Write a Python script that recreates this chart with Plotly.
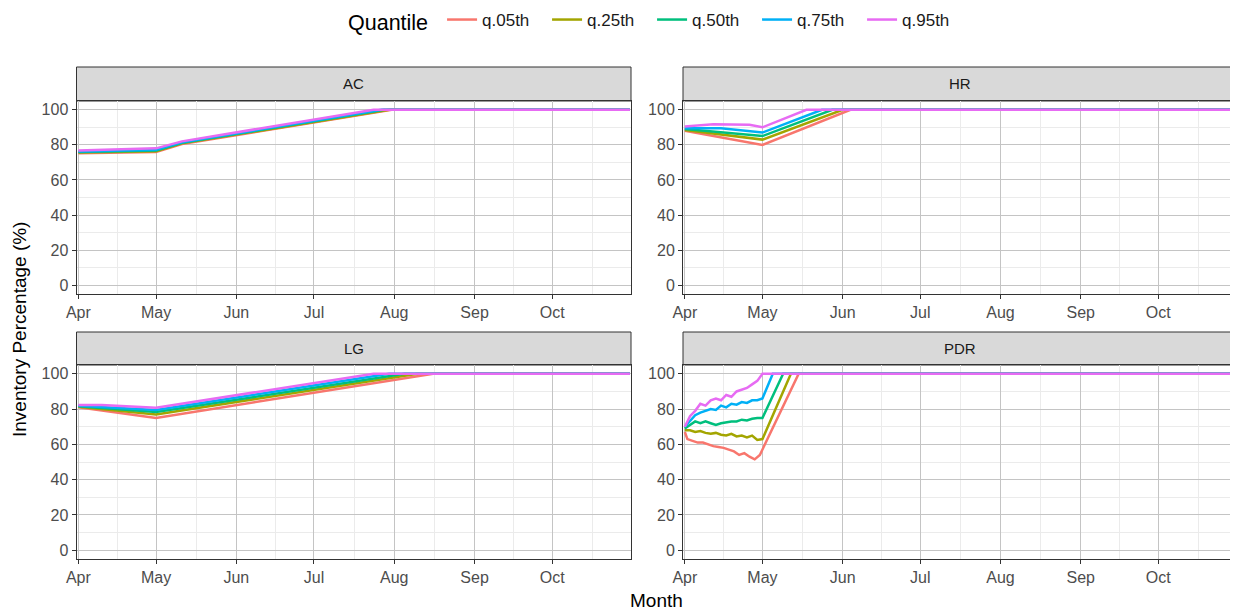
import plotly.graph_objects as go

# ---------------- data ----------------
QUANTILES = ["q.05th", "q.25th", "q.50th", "q.75th", "q.95th"]
COLORS = ["#F8766D", "#A3A500", "#00BF7D", "#00B0F6", "#E76BF3"]
PANELS = ["AC", "HR", "LG", "PDR"]
MONTH_TICKS = ["2021-04-01", "2021-05-01", "2021-06-01", "2021-07-01",
               "2021-08-01", "2021-09-01", "2021-10-01"]
MONTH_LABELS = ["Apr", "May", "Jun", "Jul", "Aug", "Sep", "Oct"]
MONTH_MINOR = ["2021-04-16", "2021-05-16 12:00", "2021-06-16", "2021-07-16 12:00",
               "2021-08-16 12:00", "2021-09-16", "2021-10-16 12:00"]
Y_TICKS = [0, 20, 40, 60, 80, 100]
Y_MINOR = [10, 30, 50, 70, 90]

# AC
AC_q05_x = ["2021-04-01", "2021-05-01", "2021-05-11", "2021-07-31", "2021-10-31"]
AC_q05_y = [75.2, 76.0, 80.5, 100, 100]
AC_q25_x = ["2021-04-01", "2021-05-01", "2021-05-11", "2021-07-30", "2021-10-31"]
AC_q25_y = [75.6, 76.4, 80.9, 100, 100]
AC_q50_x = ["2021-04-01", "2021-05-01", "2021-05-11", "2021-07-28", "2021-10-31"]
AC_q50_y = [75.9, 76.8, 81.2, 100, 100]
AC_q75_x = ["2021-04-01", "2021-05-01", "2021-05-11", "2021-07-27", "2021-10-31"]
AC_q75_y = [76.2, 77.2, 81.5, 100, 100]
AC_q95_x = ["2021-04-01", "2021-05-01", "2021-05-11", "2021-07-24", "2021-10-31"]
AC_q95_y = [76.8, 78.0, 82.0, 100, 100]

# HR
HR_q05_x = ["2021-04-01", "2021-05-01", "2021-06-04", "2021-10-31"]
HR_q05_y = [88.0, 80.0, 100, 100]
HR_q25_x = ["2021-04-01", "2021-05-01", "2021-06-01", "2021-10-31"]
HR_q25_y = [88.5, 83.0, 100, 100]
HR_q50_x = ["2021-04-01", "2021-05-01", "2021-05-28", "2021-10-31"]
HR_q50_y = [89.0, 85.0, 100, 100]
HR_q75_x = ["2021-04-01", "2021-04-15", "2021-05-01", "2021-05-24", "2021-10-31"]
HR_q75_y = [89.5, 89.5, 87.0, 100, 100]
HR_q95_x = ["2021-04-01", "2021-04-12", "2021-04-26", "2021-05-01", "2021-05-18", "2021-10-31"]
HR_q95_y = [90.5, 91.8, 91.4, 90.0, 100, 100]

# LG
LG_q05_x = ["2021-04-01", "2021-05-01", "2021-08-16", "2021-10-31"]
LG_q05_y = [81.0, 75.0, 100, 100]
LG_q25_x = ["2021-04-01", "2021-05-01", "2021-08-10", "2021-10-31"]
LG_q25_y = [81.3, 77.0, 100, 100]
LG_q50_x = ["2021-04-01", "2021-05-01", "2021-08-05", "2021-10-31"]
LG_q50_y = [81.6, 78.3, 100, 100]
LG_q75_x = ["2021-04-01", "2021-05-01", "2021-07-30", "2021-10-31"]
LG_q75_y = [81.9, 79.5, 100, 100]
LG_q95_x = ["2021-04-01", "2021-04-10", "2021-05-01", "2021-07-24", "2021-10-31"]
LG_q95_y = [82.3, 82.3, 80.8, 100, 100]

# PDR
PDR_q05_x = ["2021-04-01", "2021-04-02", "2021-04-04", "2021-04-06", "2021-04-08", "2021-04-10",
             "2021-04-12", "2021-04-14", "2021-04-16", "2021-04-18", "2021-04-20", "2021-04-22",
             "2021-04-24", "2021-04-26", "2021-04-28", "2021-04-30", "2021-05-15", "2021-10-31"]
PDR_q05_y = [67, 63, 62, 61, 61, 60, 59, 58.5, 58, 57, 56, 54, 55, 53, 51.5, 54, 100, 100]
PDR_q25_x = ["2021-04-01", "2021-04-03", "2021-04-05", "2021-04-07", "2021-04-09", "2021-04-11",
             "2021-04-13", "2021-04-15", "2021-04-17", "2021-04-19", "2021-04-21", "2021-04-23",
             "2021-04-25", "2021-04-27", "2021-04-29", "2021-05-01", "2021-05-12", "2021-10-31"]
PDR_q25_y = [68, 68, 67, 67.5, 66.5, 66, 66.5, 65.5, 65, 66, 64.5, 65, 64, 65, 62.5, 63, 100, 100]
PDR_q50_x = ["2021-04-01", "2021-04-03", "2021-04-05", "2021-04-07", "2021-04-09", "2021-04-11",
             "2021-04-13", "2021-04-15", "2021-04-17", "2021-04-19", "2021-04-21", "2021-04-23",
             "2021-04-25", "2021-04-27", "2021-04-29", "2021-05-01", "2021-05-09", "2021-10-31"]
PDR_q50_y = [69, 71, 73, 72, 73, 72, 71, 72, 72.5, 73, 73, 74, 73.5, 74.5, 75, 75, 100, 100]
PDR_q75_x = ["2021-04-01", "2021-04-03", "2021-04-05", "2021-04-07", "2021-04-09", "2021-04-11",
             "2021-04-13", "2021-04-15", "2021-04-17", "2021-04-19", "2021-04-21", "2021-04-23",
             "2021-04-25", "2021-04-27", "2021-04-29", "2021-05-01", "2021-05-05", "2021-10-31"]
PDR_q75_y = [70, 73, 76.5, 78, 79, 80, 79.5, 82, 81, 83, 82.5, 84, 83.5, 85, 85, 86, 100, 100]
PDR_q95_x = ["2021-04-01", "2021-04-03", "2021-04-05", "2021-04-07", "2021-04-09", "2021-04-11",
             "2021-04-13", "2021-04-15", "2021-04-17", "2021-04-19", "2021-04-21", "2021-04-23",
             "2021-04-25", "2021-04-27", "2021-04-29", "2021-05-01", "2021-10-31"]
PDR_q95_y = [70, 76, 79, 83, 82, 85, 86, 85, 88, 87, 90, 91, 92, 94, 96, 100, 100]

SERIES = {
    "AC": [(AC_q05_x, AC_q05_y), (AC_q25_x, AC_q25_y), (AC_q50_x, AC_q50_y),
           (AC_q75_x, AC_q75_y), (AC_q95_x, AC_q95_y)],
    "HR": [(HR_q05_x, HR_q05_y), (HR_q25_x, HR_q25_y), (HR_q50_x, HR_q50_y),
           (HR_q75_x, HR_q75_y), (HR_q95_x, HR_q95_y)],
    "LG": [(LG_q05_x, LG_q05_y), (LG_q25_x, LG_q25_y), (LG_q50_x, LG_q50_y),
           (LG_q75_x, LG_q75_y), (LG_q95_x, LG_q95_y)],
    "PDR": [(PDR_q05_x, PDR_q05_y), (PDR_q25_x, PDR_q25_y), (PDR_q50_x, PDR_q50_y),
            (PDR_q75_x, PDR_q75_y), (PDR_q95_x, PDR_q95_y)],
}

# ---------------- layout geometry (screen pixels) ----------------
OFF = 8                       # page body margin
W, H = 1238 - OFF, 612 - OFF  # figure size
COL_X = [(76.5, 631.0), (683.0, 1237.0)]
ROW_Y = [(101.0, 294.0), (365.0, 559.0)]       # plot areas (top, bottom px)
STRIP_Y = [(67.0, 101.0), (332.0, 365.0)]

def px_x(p):
    return (p - OFF) / W

def px_y(p):
    return 1 - (p - OFF) / H

FONT = "Liberation Sans, Arial, sans-serif"
fig = go.Figure()
layout = dict(
    width=W, height=H, margin=dict(l=0, r=0, t=0, b=0, autoexpand=False),
    paper_bgcolor="white", plot_bgcolor="white",
    font=dict(family=FONT, color="#000000"),
    showlegend=True,
)
shapes = []
annotations = []

for i, panel in enumerate(PANELS):
    r, c = divmod(i, 2)
    n = i + 1
    xa = "x" if n == 1 else f"x{n}"
    ya = "y" if n == 1 else f"y{n}"
    for q, (name, color) in enumerate(zip(QUANTILES, COLORS)):
        xs, ys = SERIES[panel][q]
        fig.add_trace(go.Scatter(
            x=xs, y=ys, mode="lines", name=name, legendgroup=name,
            showlegend=(i == 0), line=dict(color=color, width=2.5),
            xaxis=xa, yaxis=ya, hoverinfo="skip"))
    x0, x1 = COL_X[c]
    y0, y1 = ROW_Y[r]
    layout["xaxis" if n == 1 else f"xaxis{n}"] = dict(
        domain=[px_x(x0), px_x(x1)], anchor=ya, type="date", automargin=False,
        range=["2021-03-31 07:00", "2021-10-31 10:00"],
        tickmode="array", tickvals=MONTH_TICKS, ticktext=MONTH_LABELS,
        ticks="outside", ticklen=4, tickwidth=1, tickcolor="#333333",
        tickfont=dict(size=16, color="#4d4d4d", family=FONT),
        showgrid=True, gridcolor="#c4c4c4", gridwidth=1.3,
        minor=dict(tickvals=MONTH_MINOR, showgrid=True, gridcolor="#ebebeb",
                   gridwidth=0.7, ticklen=0),
        showline=True, linecolor="#333333", linewidth=1, mirror=True,
        zeroline=False, fixedrange=True)
    layout["yaxis" if n == 1 else f"yaxis{n}"] = dict(
        domain=[px_y(y1), px_y(y0)], anchor=xa, automargin=False,
        range=[-5, 105], tickmode="array", tickvals=Y_TICKS,
        ticktext=[str(v) for v in Y_TICKS],
        ticks="outside", ticklen=4, tickwidth=1, tickcolor="#333333",
        tickfont=dict(size=16, color="#4d4d4d", family=FONT),
        showgrid=True, gridcolor="#c4c4c4", gridwidth=1.3,
        minor=dict(tickvals=Y_MINOR, showgrid=True, gridcolor="#ebebeb",
                   gridwidth=0.7, ticklen=0),
        showline=True, linecolor="#333333", linewidth=1, mirror=True,
        zeroline=False, fixedrange=True)
    # strip
    s0, s1 = STRIP_Y[r]
    shapes.append(dict(type="rect", xref="paper", yref="paper",
                       x0=px_x(x0), x1=px_x(x1), y0=px_y(s1), y1=px_y(s0),
                       fillcolor="#d9d9d9", line=dict(color="#333333", width=1),
                       layer="below"))
    annotations.append(dict(text=panel, xref="paper", yref="paper",
                            x=px_x((x0 + x1) / 2), y=px_y((s0 + s1) / 2),
                            xanchor="center", yanchor="middle", showarrow=False,
                            font=dict(size=15, color="#1a1a1a", family=FONT)))

annotations.append(dict(text="Month", xref="paper", yref="paper",
                        x=px_x(657), y=px_y(600), xanchor="center", yanchor="middle",
                        showarrow=False, font=dict(size=19, color="#000000", family=FONT)))
annotations.append(dict(text="Inventory Percentage (%)", xref="paper", yref="paper",
                        x=px_x(20), y=px_y(330), xanchor="center", yanchor="middle",
                        textangle=-90, showarrow=False,
                        font=dict(size=19, color="#000000", family=FONT)))

layout["shapes"] = shapes
layout["annotations"] = annotations
layout["legend"] = dict(
    orientation="h", x=px_x(346), xanchor="left", y=px_y(2), yanchor="top",
    title=dict(text="Quantile ", font=dict(size=21.5, color="#000000", family=FONT)),
    font=dict(size=17, color="#1a1a1a", family=FONT),
    itemwidth=30, entrywidth=60, entrywidthmode="pixels",
    bgcolor="rgba(0,0,0,0)", tracegroupgap=0)
fig.update_layout(**layout)
fig.write_html("out.html")
